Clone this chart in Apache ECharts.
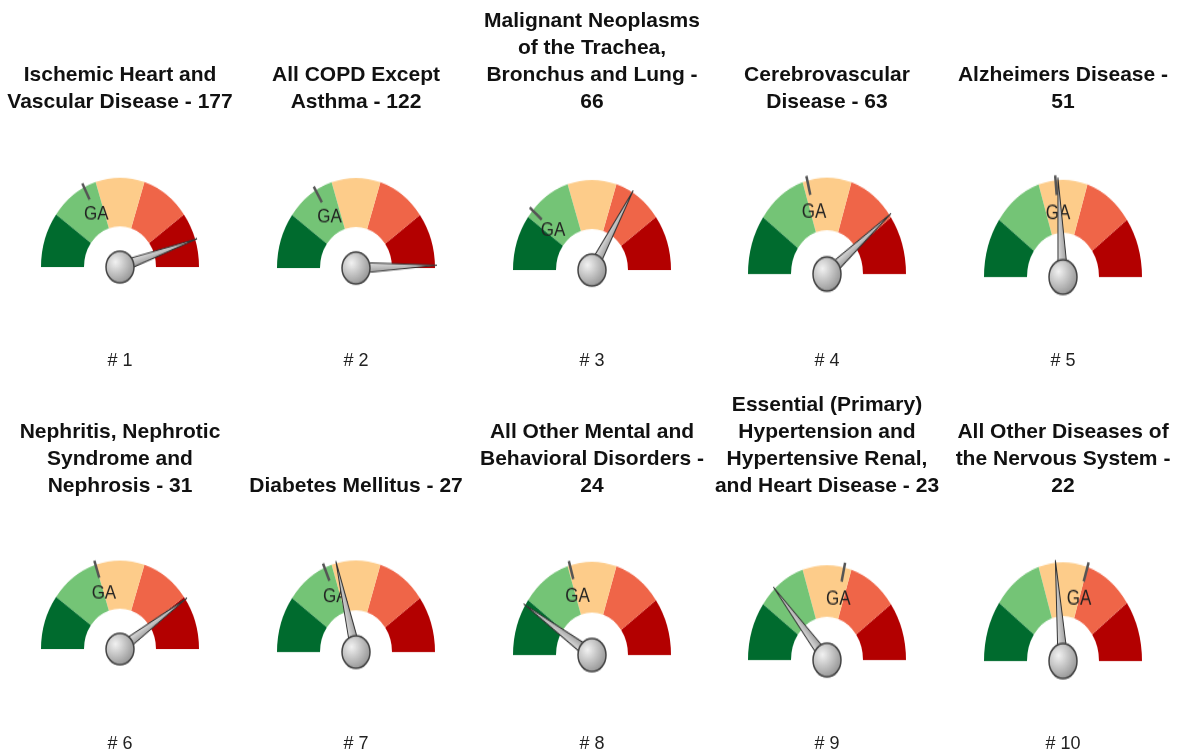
<!DOCTYPE html>
<html><head><meta charset="utf-8">
<script src="https://cdn.jsdelivr.net/npm/echarts@6/dist/echarts.min.js"></script>
<style>
html,body{margin:0;padding:0;background:#fff;width:1177px;height:755px;overflow:hidden;}
#text{position:absolute;left:0;top:0;width:1177px;height:755px;}
.g{position:absolute;width:200px;height:130px;}
</style></head><body>
<div id="text"></div>
<script>
// ---- data ----
const titles = [
  'Ischemic Heart and\nVascular Disease - 177',
  'All COPD Except\nAsthma - 122',
  'Malignant Neoplasms\nof the Trachea,\nBronchus and Lung -\n66',
  'Cerebrovascular\nDisease - 63',
  'Alzheimers Disease -\n51',
  'Nephritis, Nephrotic\nSyndrome and\nNephrosis - 31',
  'Diabetes Mellitus - 27',
  'All Other Mental and\nBehavioral Disorders -\n24',
  'Essential (Primary)\nHypertension and\nHypertensive Renal,\nand Heart Disease - 23',
  'All Other Diseases of\nthe Nervous System -\n22'
];
const ranks = ['# 1','# 2','# 3','# 4','# 5','# 6','# 7','# 8','# 9','# 10'];
const needleValues = [90, 99, 67, 79, 48, 81, 42, 18, 27, 47];
const gaValues = [35, 33, 23, 42, 47, 40, 37, 41, 57, 60];
const bandStops = [0.2, 0.4, 0.6, 0.8, 1];
const bandColors = ['#006b2e', '#74c476', '#fdcc8a', '#ef6548', '#b30000'];

// ---- layout ----
const colX = [120, 356, 592, 827, 1063];
const pivotY = [267, 268, 270, 274, 277, 649, 652, 655, 660, 661];
const stretch = [1.13, 1.14, 1.14, 1.22, 1.23, 1.12, 1.16, 1.18, 1.20, 1.25];
const titleBottom = [116, 500];
const rankY = [361, 744];

// ---- text layer ----
const textChart = echarts.init(document.getElementById('text'));
const els = [];
titles.forEach((t, i) => {
  const x = colX[i % 5], row = Math.floor(i / 5);
  els.push({type:'text', x: x, y: titleBottom[row], silent:true, style:{
    text: t, font: 'bold 21px "Liberation Sans", Arial, sans-serif', fill:'#111',
    textAlign:'center', textVerticalAlign:'bottom', align:'center', verticalAlign:'bottom', lineHeight:27}});
  els.push({type:'text', x: x, y: rankY[row], silent:true, style:{
    text: ranks[i], font: '18px "Liberation Sans", Arial, sans-serif', fill:'#222',
    textAlign:'center', textVerticalAlign:'middle', align:'center', verticalAlign:'middle'}});
});
textChart.setOption({animation:false, graphic:{elements: els}});

// ---- gauges ----
const common = {type:'gauge', center:[100,100], radius:79, startAngle:180, endAngle:0,
  min:0, max:100, silent:true, axisTick:{show:false}, splitLine:{show:false},
  axisLabel:{show:false}, detail:{show:false}, title:{show:false}};

needleValues.forEach((v, i) => {
  const ga = gaValues[i];
  const d = document.createElement('div');
  d.className = 'g';
  d.style.left = (colX[i % 5] - 100) + 'px';
  d.style.top = (pivotY[i] - 100) + 'px';
  d.style.transformOrigin = '100px 100px';
  d.style.transform = 'scaleY(' + stretch[i] + ')';
  document.body.appendChild(d);
  const c = echarts.init(d);
  c.setOption({animation:false, series:[
    Object.assign({}, common, {
      axisLine:{show:true, lineStyle:{width:43, color: bandStops.map((s, k) => [s, bandColors[k]])}},
      pointer:{show:false}, anchor:{show:false}, data:[{value:0}]
    }),
    Object.assign({}, common, {
      splitNumber:100,
      axisLine:{show:false, lineStyle:{width:0, color:[[(ga - 0.5)/100,'rgba(0,0,0,0)'],[(ga + 0.5)/100,'#555555'],[1,'rgba(0,0,0,0)']]}},
      splitLine:{show:true, length:16, distance:-4, lineStyle:{color:'auto', width:2.5}},
      axisLabel:{show:true, distance:15, rotate:0.001, color:'#222', fontSize:17, fontFamily:'"Liberation Sans", Arial, sans-serif',
        formatter: (x) => Math.round(x) === ga ? 'GA' : ''},
      pointer:{show:false}, anchor:{show:false}, data:[{value:ga}]
    }),
    Object.assign({}, common, {
      axisLine:{show:false, lineStyle:{width:0}},
      pointer:{show:true, icon:'path://M5,0L10,100L0,100Z', length:81, width:10,
        itemStyle:{color:{type:'linear', x:0, y:0, x2:1, y2:0, colorStops:[{offset:0,color:'#e8e8e8'},{offset:1,color:'#969696'}]},
          borderColor:'#333', borderWidth:1}},
      anchor:{show:true, showAbove:true, size:28,
        itemStyle:{color:{type:'radial', x:0.35, y:0.35, r:0.75, colorStops:[{offset:0,color:'#f2f2f2'},{offset:1,color:'#8c8c8c'}]},
          borderColor:'#444', borderWidth:1.5}},
      data:[{value:v}]
    })
  ]});
});
</script>
</body></html>
